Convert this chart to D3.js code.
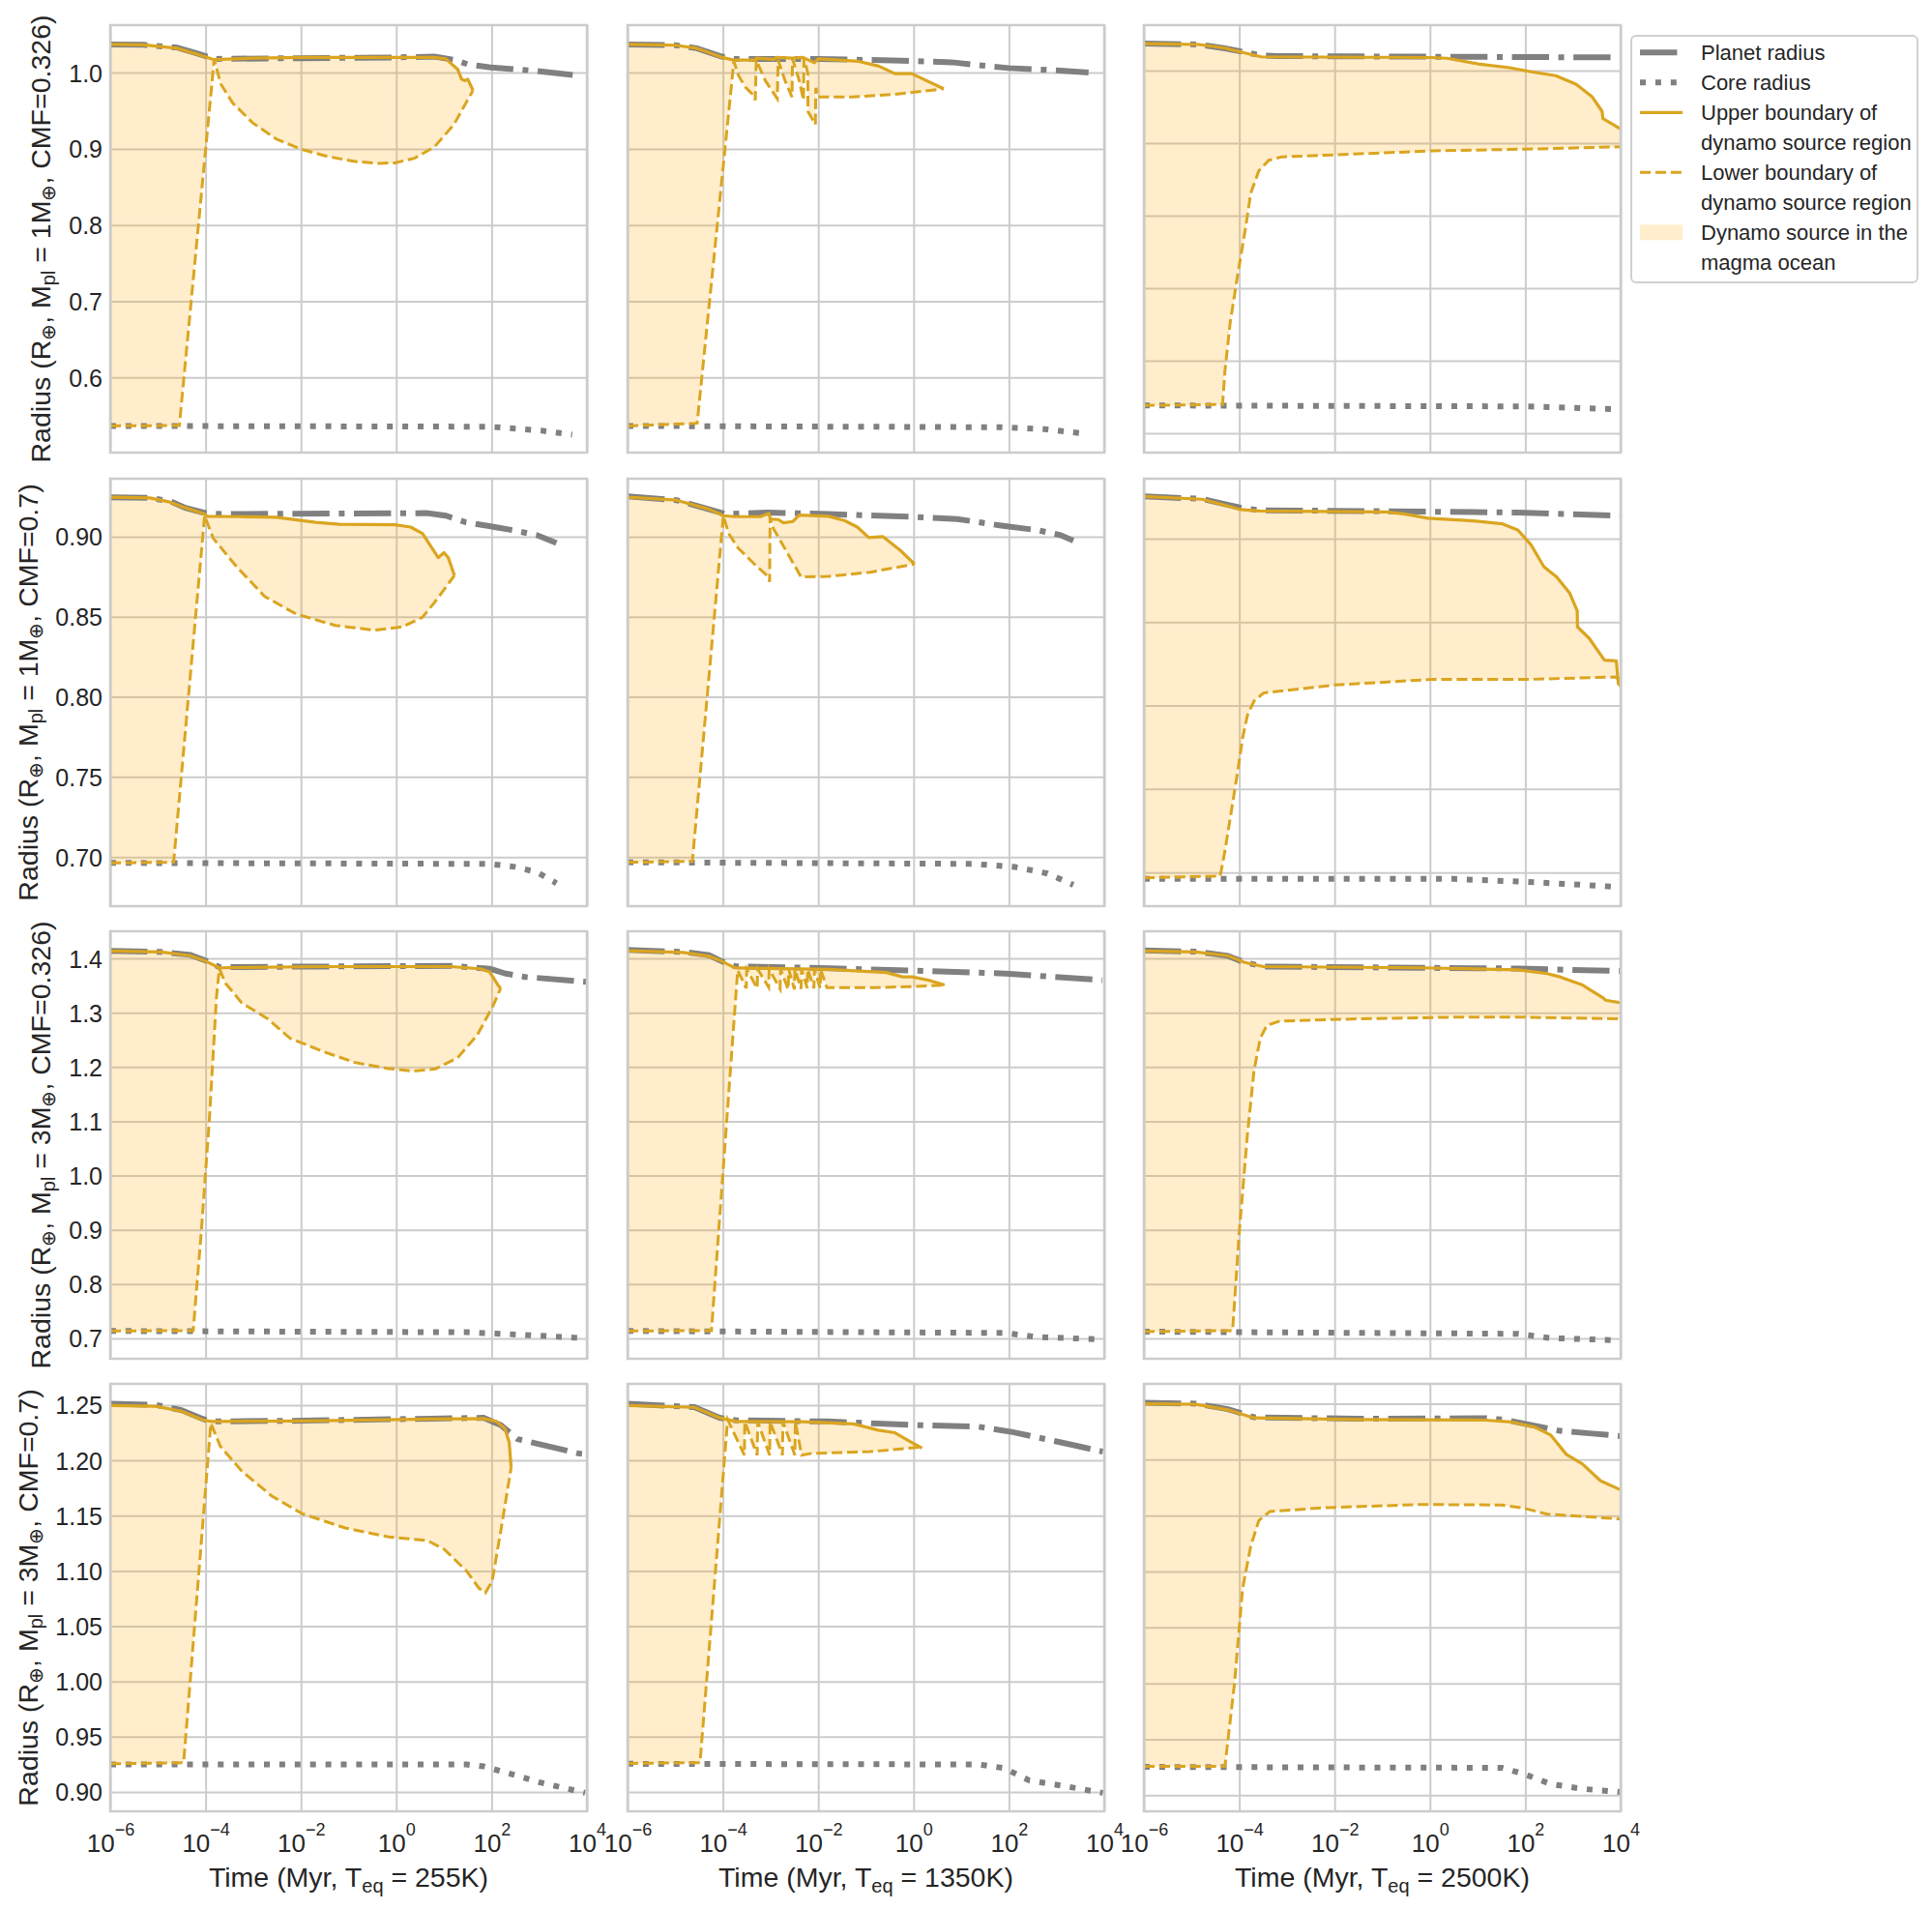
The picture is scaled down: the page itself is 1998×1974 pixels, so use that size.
<!DOCTYPE html>
<meta charset="utf-8">
<script src="https://d3js.org/d3.v7.min.js"></script>
<style type="text/css">
body { margin: 0; background: #fff; }
text { font-family: "Liberation Sans", Arial, sans-serif; fill: #262626; }
.grid line { stroke: #cccccc; stroke-width: 2; }
.grid path { display: none; }
.frame { fill: none; stroke: #cccccc; stroke-width: 2.5; }
.planet { fill: none; stroke: #808080; stroke-width: 6; stroke-dasharray: 38.4 9.6 6 9.6; }
.core { fill: none; stroke: #808080; stroke-width: 6; stroke-dasharray: 6 9.9; }
.upper { fill: none; stroke: #daa520; stroke-width: 3.2; stroke-linejoin: round; }
.lower { fill: none; stroke: #daa520; stroke-width: 3; stroke-dasharray: 11.1 4.8; }
.dynamo { fill: #ffa500; fill-opacity: 0.2; stroke: none; }
</style>
<body>
</body>
<script>
// time is stored as log10(Myr), radius in Earth radii
// panels in row order: (1M,0.326) (1M,0.7) (3M,0.326) (3M,0.7) x (255K,1350K,2500K)
var temps = ["255K", "1350K", "2500K"];
var masses = ["1", "1", "3", "3"];
var cmfs = ["0.326", "0.7", "0.326", "0.7"];
var xTickExp = [-6, -4, -2, 0, 2, 4];
var yTicks = [[0.6, 0.7, 0.8, 0.9, 1.0], [0.70, 0.75, 0.80, 0.85, 0.90],
              [0.7, 0.8, 0.9, 1.0, 1.1, 1.2, 1.3, 1.4], [0.90, 0.95, 1.00, 1.05, 1.10, 1.15, 1.20, 1.25]];
var yTicksCol3 = [[0.5, 0.6, 0.7, 0.8, 0.9, 1.0], [0.70, 0.75, 0.80, 0.85, 0.90],
                  [0.7, 0.8, 0.9, 1.0, 1.1, 1.2, 1.3, 1.4], [0.90, 0.95, 1.00, 1.05, 1.10, 1.15, 1.20, 1.25]];
var yFormats = [".1f", ".2f", ".1f", ".2f"];
var yDomains = [[0.5015, 1.0623], [0.6693, 0.9362], [0.6625, 1.45], [0.8825, 1.2692]];
var yDomainsCol3 = [[0.4733, 1.0627], [0.6798, 0.9359], [0.6625, 1.45], [0.8856, 1.2677]];

var planetRadius = [
  [[-6,1.037],[-5.3,1.0365],[-4.6,1.033],[-4.17,1.025],[-3.8,1.018],[-2,1.019],[0,1.020],[0.8,1.021],[1.2,1.017],[1.5,1.011],[1.95,1.007],[2.8,1.003],[3.7,0.997]],
  [[-6,1.037],[-5.0,1.036],[-4.55,1.032],[-4.02,1.021],[-3.77,1.018],[-2.0,1.018],[-0.25,1.0157],[0.8,1.0136],[1.5,1.009],[2.0,1.006],[3.0,1.003],[3.67,1.000]],
  [[-6,1.0373],[-4.84,1.036],[-4.30,1.0307],[-3.54,1.021],[-3.21,1.020],[4,1.0182]],
  [[-6,0.9246],[-5.17,0.9242],[-4.75,0.9222],[-4.42,0.918],[-4.05,0.9151],[-3.68,0.9141],[0.63,0.9147],[1.04,0.9131],[1.46,0.909],[1.95,0.9066],[2.45,0.904],[2.95,0.901],[3.36,0.896]],
  [[-6,0.9252],[-4.97,0.9228],[-4.29,0.9171],[-3.95,0.9141],[-3.07,0.9151],[-1.79,0.9141],[-0.10,0.9125],[0.92,0.911],[1.80,0.9071],[2.61,0.904],[3.08,0.901],[3.35,0.8976]],
  [[-6,0.9253],[-4.78,0.9238],[-3.97,0.9185],[-3.56,0.917],[-0.85,0.9164],[1.85,0.9156],[4,0.9137]],
  [[-6,1.4137],[-4.93,1.412],[-4.32,1.4066],[-3.99,1.3958],[-3.71,1.384],[-1.55,1.3851],[1.15,1.3863],[1.96,1.381],[2.3,1.372],[2.7,1.366],[4.0,1.357]],
  [[-6,1.4155],[-4.83,1.412],[-4.29,1.406],[-4.02,1.3946],[-3.75,1.3857],[-2.13,1.3827],[-0.10,1.378],[1.93,1.372],[3.96,1.360]],
  [[-6,1.4149],[-4.91,1.4125],[-4.24,1.4048],[-3.90,1.3929],[-3.49,1.3851],[-0.18,1.3827],[1.85,1.3815],[2.86,1.379],[4.0,1.3768]],
  [[-6,1.2513],[-5.05,1.2503],[-4.51,1.2455],[-4.06,1.2375],[-3.87,1.2352],[-1.97,1.2359],[0.74,1.2378],[1.83,1.2385],[2.19,1.232],[2.55,1.2192],[3.82,1.2063],[4.0,1.2055]],
  [[-6,1.2513],[-4.60,1.2482],[-4.07,1.2385],[-3.72,1.2362],[-1.79,1.2352],[-0.03,1.232],[1.37,1.2304],[2.08,1.2256],[3.30,1.2143],[3.97,1.2079]],
  [[-6,1.2509],[-4.91,1.25],[-4.24,1.2451],[-3.69,1.2379],[-1.53,1.2365],[1.17,1.237],[1.58,1.2356],[2.26,1.2298],[2.73,1.2257],[3.34,1.2235],[4.0,1.2211]]
];

var coreRadius = [
  [[-6,0.5365],[1.95,0.5355],[2.37,0.5335],[3.03,0.5305],[3.69,0.525]],
  [[-6,0.5365],[1.85,0.5348],[2.76,0.5322],[3.49,0.527]],
  [[-6,0.5383],[2.0,0.537],[4.0,0.533]],
  [[-6,0.6963],[1.95,0.6957],[2.45,0.694],[2.95,0.6906],[3.36,0.6836]],
  [[-6,0.6967],[1.26,0.6957],[2.13,0.6937],[2.81,0.6897],[3.35,0.6826]],
  [[-6,0.6962],[0.5,0.6961],[1.92,0.6945],[2.93,0.693],[4.0,0.6912]],
  [[-6,0.7137],[1.49,0.7113],[2.09,0.709],[3.0,0.705],[4.0,0.700]],
  [[-6,0.7137],[1.93,0.710],[2.61,0.7023],[3.96,0.6982]],
  [[-6,0.7125],[1.85,0.7084],[2.53,0.7006],[4.0,0.6964]],
  [[-6,0.9249],[1.47,0.9249],[1.83,0.9232],[2.37,0.9168],[3.0,0.9088],[3.96,0.8992]],
  [[-6,0.9255],[1.37,0.9249],[1.90,0.9216],[2.43,0.9104],[3.13,0.9056],[3.97,0.8992]],
  [[-6,0.9253],[1.51,0.9245],[1.99,0.9187],[2.53,0.91],[3.20,0.9057],[4.0,0.9028]]
];

var upperBoundary = [
  [[-6,1.037],[-5.3,1.0365],[-4.6,1.032],[-4.17,1.024],[-3.82,1.017],[-3,1.019],[-2,1.020],[0,1.020],[0.8,1.020],[1.04,1.018],[1.29,1.0042],[1.37,0.9915],[1.44,0.9894],[1.50,0.9915],[1.61,0.9767]],
  [[-6,1.037],[-5.0,1.036],[-4.55,1.032],[-4.02,1.020],[-3.77,1.0165],[-3.32,1.0165],[-3.30,1.019],[-2.92,1.0175],[-2.88,1.020],[-2.55,1.019],[-2.32,1.020],[-2.08,1.013],[-2.0,1.018],[-1.15,1.0148],[-0.73,1.0085],[-0.39,0.9987],[-0.04,0.9987],[0.63,0.9788]],
  [[-6,1.0373],[-4.84,1.036],[-4.30,1.031],[-3.54,1.019],[0.04,1.018],[0.36,1.017],[1.01,1.0093],[1.67,1.004],[2.10,0.9987],[2.64,0.993],[3.07,0.981],[3.40,0.964],[3.61,0.944],[3.63,0.9337],[4.0,0.9196]],
  [[-6,0.9246],[-5.17,0.9242],[-4.75,0.9216],[-4.42,0.918],[-4.02,0.9141],[-3.97,0.9127],[-3.34,0.9125],[-2.52,0.9121],[-1.69,0.909],[-1.19,0.9077],[-0.03,0.9074],[0.30,0.906],[0.55,0.902],[0.88,0.8869],[1.0,0.890],[1.09,0.887],[1.22,0.8758]],
  [[-6,0.9246],[-4.97,0.9228],[-4.29,0.9171],[-3.99,0.9131],[-3.75,0.9125],[-3.21,0.9125],[-3.04,0.9147],[-3.00,0.911],[-2.84,0.9107],[-2.73,0.9086],[-2.53,0.9095],[-2.40,0.9135],[-1.79,0.9127],[-1.45,0.9101],[-1.18,0.906],[-0.94,0.8994],[-0.64,0.9],[-0.30,0.892],[0.02,0.8829]],
  [[-6,0.9253],[-4.78,0.9236],[-3.97,0.9174],[-3.56,0.9166],[-0.92,0.916],[-0.52,0.9147],[-0.04,0.9122],[0.84,0.9108],[1.51,0.9089],[1.85,0.905],[2.12,0.8963],[2.39,0.8832],[2.66,0.877],[2.93,0.8674],[3.09,0.8567],[3.095,0.8471],[3.34,0.8403],[3.66,0.8272],[3.91,0.8268],[3.95,0.8133],[4.05,0.81]],
  [[-6,1.4137],[-4.93,1.412],[-4.32,1.405],[-3.99,1.3946],[-3.71,1.3827],[-1.55,1.385],[1.15,1.385],[1.76,1.381],[1.96,1.375],[2.13,1.3512],[2.19,1.345]],
  [[-6,1.414],[-4.83,1.411],[-4.29,1.404],[-4.02,1.3946],[-3.75,1.3827],[-1.79,1.380],[-0.57,1.374],[-0.23,1.366],[-0.03,1.366],[0.31,1.360],[0.65,1.351]],
  [[-6,1.4137],[-4.91,1.412],[-4.24,1.405],[-3.90,1.393],[-3.49,1.385],[-0.18,1.3827],[1.85,1.379],[2.46,1.372],[2.73,1.366],[3.20,1.351],[3.64,1.327],[3.68,1.323],[4.0,1.3185]],
  [[-6,1.2497],[-5.05,1.249],[-4.51,1.2445],[-4.06,1.2366],[-3.87,1.2352],[-1.97,1.2357],[0.74,1.2373],[1.83,1.2378],[2.10,1.2352],[2.28,1.2288],[2.37,1.216],[2.41,1.1935]],
  [[-6,1.2497],[-4.60,1.248],[-4.07,1.2385],[-3.72,1.2352],[-2.32,1.235],[-1.26,1.233],[-0.74,1.2273],[-0.39,1.225],[-0.03,1.216],[0.18,1.2112]],
  [[-6,1.2498],[-4.91,1.2495],[-4.24,1.2445],[-3.69,1.2373],[-1.53,1.2359],[1.17,1.2353],[1.71,1.2336],[2.19,1.2292],[2.53,1.222],[2.86,1.2047],[3.20,1.196],[3.58,1.181],[4.0,1.1729]]
];

var lowerBoundary = [
  [[-6,0.5365],[-4.55,0.537],[-3.82,1.017],[-3.68,0.985],[-3.43,0.960],[-3.01,0.934],[-2.52,0.913],[-2.02,0.900],[-1.44,0.890],[-0.86,0.8833],[-0.36,0.881],[-0.03,0.8816],[0.38,0.8876],[0.80,0.9025],[1.21,0.932],[1.46,0.960],[1.61,0.9767]],
  [[-6,0.5365],[-4.54,0.540],[-3.77,1.0148],[-3.67,0.9958],[-3.53,0.981],[-3.39,0.9724],[-3.32,0.964],[-3.30,1.0165],[-3.11,0.9894],[-2.86,0.966],[-2.84,1.0165],[-2.70,0.99],[-2.55,0.968],[-2.54,1.018],[-2.40,0.99],[-2.31,0.964],[-2.30,1.018],[-2.22,1.0],[-2.215,0.949],[-2.06,0.932],[-2.05,0.98],[-2.0,0.968],[-1.29,0.968],[-0.39,0.9716],[0.63,0.9788]],
  [[-6,0.5383],[-4.35,0.5396],[-4.30,0.5863],[-4.19,0.6529],[-4.03,0.7196],[-3.86,0.7863],[-3.76,0.8307],[-3.59,0.8618],[-3.38,0.8764],[-3.11,0.881],[-1.59,0.885],[0.04,0.8893],[2.21,0.892],[4.0,0.895]],
  [[-6,0.6963],[-4.67,0.6967],[-4.02,0.9131],[-3.84,0.899],[-3.34,0.8809],[-2.76,0.8627],[-2.10,0.8517],[-1.28,0.8446],[-0.45,0.8416],[0.13,0.8437],[0.55,0.8497],[0.80,0.8588],[1.22,0.8758]],
  [[-6,0.6967],[-4.64,0.6973],[-3.99,0.9131],[-3.88,0.902],[-3.68,0.8929],[-3.34,0.8829],[-3.04,0.8748],[-3.02,0.8718],[-3.01,0.912],[-2.94,0.905],[-2.67,0.891],[-2.36,0.8748],[-1.79,0.8752],[-0.91,0.8778],[0.02,0.8829]],
  [[-6,0.6968],[-4.40,0.6978],[-4.30,0.7129],[-4.17,0.736],[-4.03,0.7611],[-3.93,0.7805],[-3.83,0.794],[-3.69,0.8027],[-3.49,0.8075],[-2.0,0.8123],[0.02,0.8156],[1.99,0.8156],[3.88,0.8171],[4.05,0.815]],
  [[-6,0.7137],[-4.26,0.7143],[-4.09,0.896],[-3.92,1.104],[-3.77,1.330],[-3.71,1.381],[-3.58,1.354],[-3.24,1.318],[-2.70,1.289],[-2.23,1.253],[-1.55,1.229],[-0.87,1.2083],[-0.20,1.1976],[0.34,1.1923],[0.82,1.1964],[1.29,1.2173],[1.70,1.259],[2.03,1.3125],[2.19,1.345]],
  [[-6,0.7137],[-4.24,0.7143],[-3.69,1.378],[-3.51,1.345],[-3.50,1.380],[-3.28,1.345],[-3.27,1.380],[-3.04,1.347],[-3.03,1.380],[-2.80,1.344],[-2.79,1.380],[-2.63,1.343],[-2.62,1.380],[-2.50,1.343],[-2.49,1.380],[-2.36,1.344],[-2.35,1.380],[-2.23,1.345],[-2.22,1.380],[-2.09,1.345],[-2.08,1.380],[-1.96,1.345],[-1.95,1.380],[-1.82,1.3464],[-0.77,1.3464],[-0.10,1.348],[0.65,1.351]],
  [[-6,0.7125],[-4.14,0.7143],[-4.0,0.896],[-3.83,1.0745],[-3.69,1.1934],[-3.56,1.253],[-3.42,1.2768],[-3.15,1.2845],[-1.53,1.2887],[0.50,1.2917],[1.99,1.2917],[4.0,1.2887]],
  [[-6,0.9255],[-4.46,0.9265],[-3.89,1.2336],[-3.69,1.2127],[-3.24,1.1902],[-2.61,1.1677],[-1.97,1.1517],[-1.07,1.1388],[-0.16,1.1307],[0.65,1.1275],[1.01,1.1195],[1.47,1.1001],[1.74,1.0841],[1.87,1.0802],[2.01,1.0905],[2.19,1.1356],[2.41,1.1935]],
  [[-6,0.9259],[-4.48,0.9265],[-3.90,1.2369],[-3.55,1.2047],[-3.54,1.235],[-3.28,1.2047],[-3.27,1.235],[-3.02,1.2047],[-3.01,1.235],[-2.75,1.2047],[-2.74,1.235],[-2.49,1.2047],[-2.48,1.235],[-2.35,1.2047],[-2.14,1.2063],[-0.91,1.2079],[0.18,1.2121]],
  [[-6,0.9259],[-4.30,0.9259],[-4.10,1.0],[-3.93,1.0848],[-3.76,1.1224],[-3.59,1.1455],[-3.36,1.1536],[-2.21,1.157],[-0.18,1.1599],[1.51,1.1594],[1.99,1.1564],[2.46,1.1512],[3.20,1.1492],[4.0,1.1469]]
];

var legendLabels = ["Planet radius", "Core radius", "Upper boundary of\ndynamo source region",
                    "Lower boundary of\ndynamo source region", "Dynamo source in the\nmagma ocean"];

var width = 1998, height = 1974;
var colLeft = [114, 649, 1183], panelW = 493;
var rowTop = [26, 495, 963, 1431], panelH = 442;
var yLabelX = [52, 38.5, 52, 38.5];

var svg = d3.select("body").append("svg")
    .attr("width", width)
    .attr("height", height);
var defs = svg.append("defs");

var xScale = d3.scaleLog()
    .domain([1e-6, 1e4])
    .range([0, panelW]);
var xTicks = xTickExp.map(function(e) { return Math.pow(10, e); });

for (var r = 0; r < 4; r++) {
  for (var c = 0; c < 3; c++) {
    var idx = r * 3 + c;
    var dom = (c == 2) ? yDomainsCol3[r] : yDomains[r];
    var ticks = (c == 2) ? yTicksCol3[r] : yTicks[r];
    var yScale = d3.scaleLinear().domain(dom).range([panelH, 0]);

    var g = svg.append("g")
        .attr("transform", "translate(" + colLeft[c] + "," + rowTop[r] + ")");

    defs.append("clipPath").attr("id", "clip" + idx)
      .append("rect").attr("x", 0).attr("y", 0).attr("width", panelW).attr("height", panelH);

    // grid
    g.append("g").attr("class", "grid")
        .call(d3.axisLeft(yScale).tickValues(ticks).tickSize(-panelW).tickFormat(""));
    g.append("g").attr("class", "grid")
        .attr("transform", "translate(0," + panelH + ")")
        .call(d3.axisBottom(xScale).tickValues(xTicks).tickSize(-panelH).tickFormat(""));

    var line = d3.line()
        .x(function(d) { return xScale(Math.pow(10, d[0])); })
        .y(function(d) { return yScale(d[1]); });
    var area = d3.line()
        .x(function(d) { return xScale(Math.pow(10, d[0])); })
        .y(function(d) { return yScale(d[1]); })
        .curve(d3.curveLinearClosed);

    var plot = g.append("g").attr("clip-path", "url(#clip" + idx + ")");
    plot.append("path")
        .datum(upperBoundary[idx].concat(lowerBoundary[idx].slice().reverse()))
        .attr("class", "dynamo")
        .attr("d", area);
    plot.append("path").datum(planetRadius[idx]).attr("class", "planet").attr("d", line);
    plot.append("path").datum(coreRadius[idx]).attr("class", "core").attr("d", line);
    plot.append("path").datum(upperBoundary[idx]).attr("class", "upper").attr("d", line);
    plot.append("path").datum(lowerBoundary[idx]).attr("class", "lower").attr("d", line);

    g.append("rect").attr("class", "frame")
        .attr("width", panelW).attr("height", panelH);

    // y tick labels on first column
    if (c == 0) {
      var ya = g.append("g")
          .call(d3.axisLeft(yScale).tickValues(ticks).tickSize(0).tickPadding(8)
                .tickFormat(d3.format(yFormats[r])));
      ya.select(".domain").remove();
      ya.attr("font-family", null).attr("font-size", null);
      ya.selectAll("text").attr("font-size", "25px").attr("fill", "#262626").attr("dy", "0.36em");

      var yl = g.append("text")
          .attr("transform", "translate(" + (yLabelX[r] - colLeft[0]) + "," + (panelH / 2) + ") rotate(-90)")
          .attr("text-anchor", "middle")
          .attr("font-size", "28.5px");
      yl.append("tspan").text("Radius (R");
      yl.append("tspan").attr("font-size", "20px").attr("dy", 5).text("\u2295");
      yl.append("tspan").attr("dy", -5).text(", M");
      yl.append("tspan").attr("font-size", "20px").attr("dy", 5).text("pl");
      yl.append("tspan").attr("dy", -5).text(" = " + masses[r] + "M");
      yl.append("tspan").attr("font-size", "20px").attr("dy", 5).text("\u2295");
      yl.append("tspan").attr("dy", -5).text(", CMF=" + cmfs[r] + ")");
    }

    // x tick labels on last row
    if (r == 3) {
      var xa = g.append("g")
          .attr("transform", "translate(0," + panelH + ")")
          .call(d3.axisBottom(xScale).tickValues(xTicks).tickSize(0).tickFormat(""));
      xa.select(".domain").remove();
      xa.selectAll(".tick").each(function(d, i) {
        var t = d3.select(this).append("text")
            .attr("y", 1915 - rowTop[3] - panelH)
            .attr("text-anchor", "middle")
            .attr("font-size", "26px")
            .attr("fill", "#262626");
        t.append("tspan").text("10");
        t.append("tspan").attr("font-size", "18px").attr("dy", -17)
            .text(xTickExp[i] < 0 ? "\u2212" + Math.abs(xTickExp[i]) : String(xTickExp[i]));
      });

      var xl = g.append("text")
          .attr("x", panelW / 2)
          .attr("y", 1951 - rowTop[3])
          .attr("text-anchor", "middle")
          .attr("font-size", "28.5px");
      xl.append("tspan").text("Time (Myr, T");
      xl.append("tspan").attr("font-size", "20px").attr("dy", 6).text("eq");
      xl.append("tspan").attr("dy", -6).text(" = " + temps[c] + ")");
    }
  }
}

// legend
var leg = svg.append("g").attr("transform", "translate(1687,37)");
leg.append("rect")
    .attr("width", 296).attr("height", 255)
    .attr("rx", 5)
    .attr("fill", "#ffffff").attr("fill-opacity", 0.8)
    .attr("stroke", "#d0d0d0").attr("stroke-width", 2);

var legClasses = ["planet", "core", "upper", "lower", "dynamo"];
var lineNo = 0;
legendLabels.forEach(function(lab, i) {
  var base = 25.3 + lineNo * 31;
  if (legClasses[i] == "dynamo") {
    leg.append("rect").attr("class", "dynamo")
        .attr("x", 9).attr("y", base - 16).attr("width", 44).attr("height", 16);
  } else {
    leg.append("path").attr("class", legClasses[i])
        .attr("d", "M9," + (base - 8) + "H53");
  }
  lab.split("\n").forEach(function(s) {
    leg.append("text")
        .attr("x", 72).attr("y", 25.3 + lineNo * 31)
        .attr("font-size", "22px")
        .text(s);
    lineNo++;
  });
});
</script>
